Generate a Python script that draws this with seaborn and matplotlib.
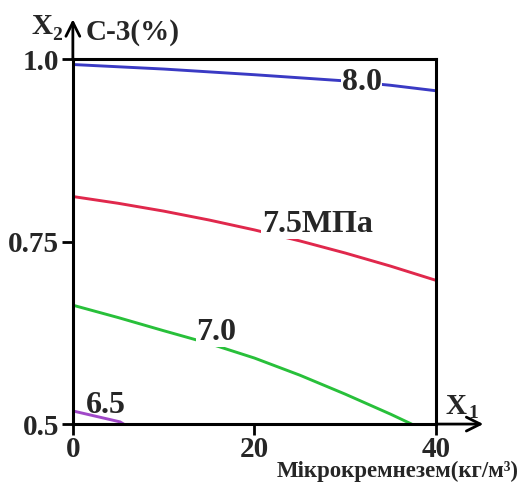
import numpy as np
import pandas as pd
import matplotlib
matplotlib.use("Agg")
import matplotlib.pyplot as plt
import seaborn as sns

# Ізолінії міцності: X1 - мікрокремнезем, X2 - С-3
x_80 = [0, 10, 20, 30, 35, 40]
y_80 = [0.993, 0.9868, 0.979, 0.9705, 0.9645, 0.957]

x_75 = [0, 5, 10, 15, 20, 25, 30, 35, 40]
y_75 = [0.812, 0.8027, 0.792, 0.7798, 0.7662, 0.7511, 0.7345, 0.7165, 0.697]

x_70 = [0, 5, 10, 15, 20, 25, 30, 35, 37.3]
y_70 = [0.663, 0.646, 0.628, 0.6105, 0.5905, 0.567, 0.541, 0.5135, 0.5]

x_65 = [0, 5.2, 5.6]
y_65 = [0.518, 0.503, 0.5]

x_ticks = [0, 20, 40]
y_ticks = [0.5, 0.75, 1.0]
y_ticklabels = ["0.5", "0.75", "1.0"]

sns.set_style("ticks")
plt.rcParams["font.family"] = ["Liberation Serif", "DejaVu Serif"]
plt.rcParams["font.weight"] = "bold"

fig = plt.figure(figsize=(5.28, 4.83), dpi=100)
ax = fig.add_axes([0.138, 0.122, 0.688, 0.755])

sns.lineplot(x=x_80, y=y_80, color="#3a3ac4", lw=2.1, sort=False, ax=ax)
sns.lineplot(x=x_75, y=y_75, color="#e0284c", lw=2.1, sort=False, ax=ax)
sns.lineplot(x=x_70, y=y_70, color="#28c03a", lw=2.1, sort=False, ax=ax)
sns.lineplot(x=x_65, y=y_65, color="#a048c8", lw=2.1, sort=False, ax=ax)

ax.set_xlim(0, 40)
ax.set_ylim(0.5, 1.0)
ax.set_xticks(x_ticks)
ax.set_xticklabels([str(v) for v in x_ticks])
ax.set_yticks(y_ticks)
ax.set_yticklabels(y_ticklabels)
ax.tick_params(axis="y", direction="out", length=8, width=2, pad=2,
               labelsize=21, color="black")
ax.tick_params(axis="x", direction="out", length=8, width=2, pad=0.5,
               labelsize=21, color="black")
for lab in ax.get_xticklabels() + ax.get_yticklabels():
    lab.set_fontweight("bold")
for sp in ax.spines.values():
    sp.set_visible(True)
    sp.set_linewidth(2.2)
    sp.set_color("black")
ax.set_xlabel("")
ax.set_ylabel("")

# підписи ізоліній
box = dict(facecolor="white", edgecolor="none", pad=0.3)
lbl = dict(fontsize=23, fontweight="bold", ha="center", va="center")
ax.text(31.8, 0.969, "8.0", bbox=box, **lbl)
ax.text(26.9, 0.774, "7.5МПа", bbox=box, **lbl)
ax.text(15.8, 0.626, "7.0", bbox=box, **lbl)
ax.text(3.6, 0.525, "6.5", **lbl)

# стрілки осей
arr = dict(arrowstyle="->", lw=2.0, color="black", mutation_scale=25,
           shrinkA=0, shrinkB=0)
ax.annotate("", xy=(45.2, 0.5), xytext=(40, 0.5), xycoords="data",
            arrowprops=arr, annotation_clip=False)
ax.annotate("", xy=(0, 1.055), xytext=(0, 1.0), xycoords="data",
            arrowprops=arr, annotation_clip=False)

# назви осей
fig.text(32 / 528, 1 - 26 / 483, "X", fontsize=21, fontweight="bold", ha="left", va="center")
fig.text(52 / 528, 1 - 35 / 483, "2", fontsize=14, fontweight="bold", ha="left", va="center")
fig.text(86 / 528, 1 - 33 / 483, "C-3(%)", fontsize=21, fontweight="bold", ha="left", va="center")
fig.text(446 / 528, 1 - 406 / 483, "X", fontsize=21, fontweight="bold", ha="left", va="center")
fig.text(468 / 528, 1 - 413 / 483, "1", fontsize=14, fontweight="bold", ha="left", va="center")
fig.text(519 / 528, 1 - 471.5 / 483, "Мікрокремнезем(кг/м³)", fontsize=16.5,
         fontweight="bold", ha="right", va="center")

fig.savefig("out.png", dpi=100, facecolor="white")
